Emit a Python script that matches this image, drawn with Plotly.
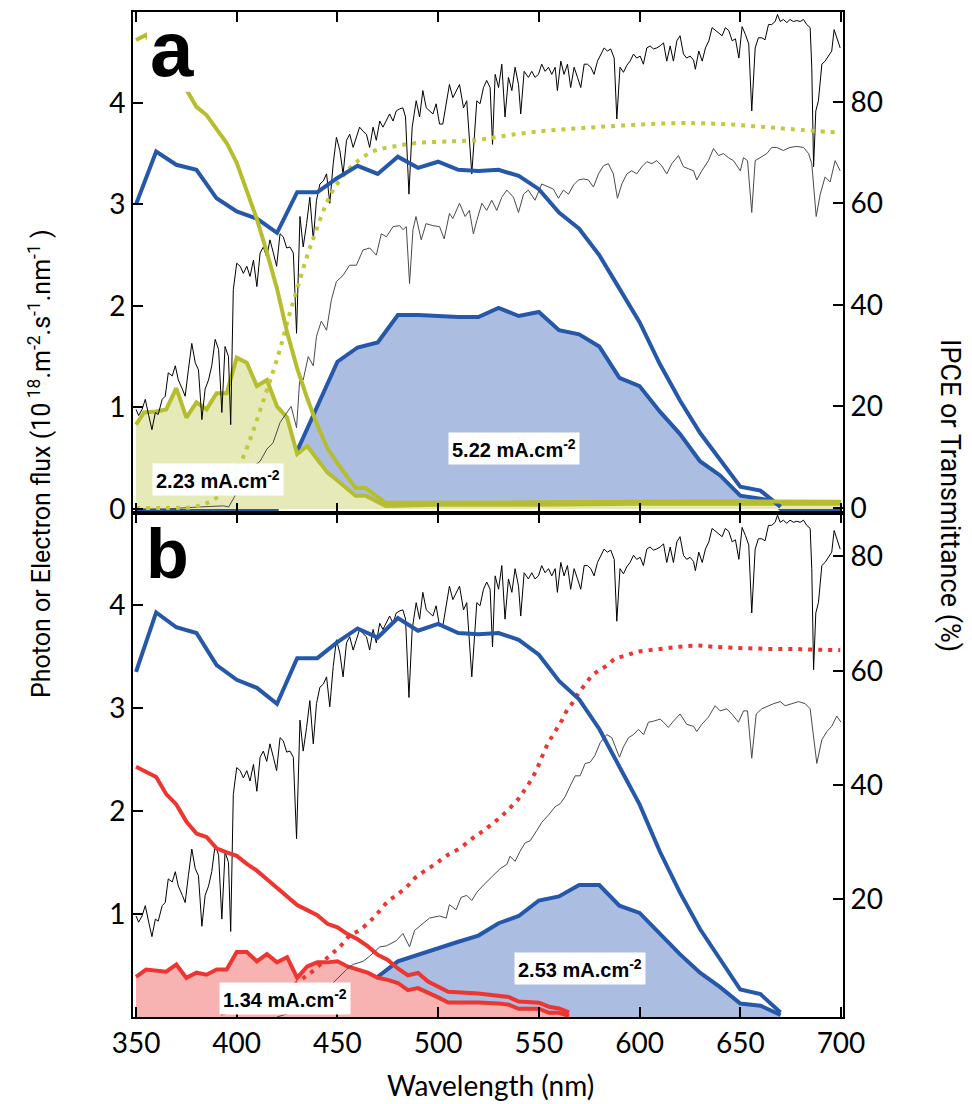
import plotly.graph_objects as go

# ---------------- data ----------------
# AM1.5 solar photon flux (10^18 m-2 s-1 nm-1), shared by both panels
solar_wl = [350.0, 351.3, 353.0, 354.6, 356.3, 357.9, 359.6, 361.0, 363.0, 364.5, 366.0, 368.0, 369.5, 371.0,
            373.0, 374.4, 376.0, 377.7, 379.4, 381.0, 382.7, 384.3, 386.0, 387.6, 389.3, 391.0, 392.6, 394.2,
            395.9, 397.0, 398.3, 400.0, 401.7, 403.3, 405.0, 406.6, 408.3, 410.0, 411.6, 413.2, 414.9, 416.5,
            418.2, 419.8, 421.5, 423.1, 424.8, 426.4, 428.1, 429.7, 431.4, 433.0, 434.7, 436.3, 438.0, 439.6,
            441.3, 443.0, 444.6, 446.2, 447.9, 449.5, 451.2, 452.8, 454.5, 456.1, 457.8, 459.4, 461.0, 462.7,
            464.4, 466.0, 467.7, 469.3, 471.0, 472.6, 474.3, 475.9, 477.6, 479.2, 480.9, 482.5, 483.8, 485.5,
            487.1, 489.1, 490.8, 492.4, 494.1, 495.7, 497.4, 499.0, 500.7, 502.3, 504.0, 505.6, 507.3, 508.9,
            510.6, 512.6, 514.2, 516.7, 519.2, 520.8, 522.5, 524.1, 525.8, 527.0, 528.3, 530.0, 531.6, 533.2,
            534.9, 536.6, 538.2, 539.9, 541.0, 542.7, 544.8, 546.5, 548.1, 549.8, 551.4, 553.1, 554.8, 556.4,
            558.1, 559.2, 560.9, 562.5, 564.2, 565.8, 567.5, 569.2, 570.8, 572.5, 574.1, 575.8, 577.4, 579.1,
            580.7, 582.4, 584.0, 585.7, 587.4, 588.7, 590.3, 592.0, 593.7, 595.3, 597.0, 598.6, 600.3, 601.9,
            603.6, 605.2, 606.9, 608.5, 610.2, 611.9, 613.5, 615.2, 616.8, 618.5, 620.1, 621.8, 623.4, 625.1,
            626.8, 627.7, 629.4, 631.1, 632.7, 634.4, 636.0, 637.7, 639.3, 641.0, 642.6, 644.3, 646.0, 647.6,
            649.3, 650.9, 652.6, 654.2, 655.7, 657.4, 659.0, 660.7, 662.3, 664.0, 665.6, 667.3, 668.5, 669.8,
            671.4, 673.1, 674.7, 676.4, 678.1, 679.7, 681.4, 683.0, 684.7, 685.5, 686.4, 687.5, 688.8, 690.5,
            692.1, 693.8, 695.4, 696.6, 697.9, 699.6]
solar_flux = [0.98, 0.92, 0.98, 1.08, 0.92, 0.78, 0.95, 0.93, 1.08, 1.11, 1.34, 1.31, 1.41, 1.27,
              1.18, 1.11, 1.37, 1.63, 1.44, 1.37, 0.88, 1.18, 1.27, 1.41, 1.67, 1.57, 0.95, 1.60,
              1.50, 0.83, 2.16, 2.42, 2.39, 2.32, 2.39, 2.29, 2.45, 2.19, 2.52, 2.58, 2.48, 2.65,
              2.52, 2.39, 2.71, 2.68, 2.57, 2.58, 2.52, 1.73, 2.88, 2.58, 2.81, 3.07, 2.65, 3.04,
              3.20, 3.23, 3.30, 3.01, 3.40, 3.66, 3.53, 3.30, 3.63, 3.69, 3.56, 3.66, 3.76, 3.72,
              3.69, 3.56, 3.76, 3.63, 3.82, 3.76, 3.82, 3.89, 3.82, 3.92, 3.94, 3.95, 3.86, 3.10,
              3.76, 4.02, 3.86, 4.12, 3.95, 3.92, 3.89, 3.99, 3.79, 3.79, 3.99, 4.18, 4.05, 4.12,
              4.18, 3.95, 4.02, 3.30, 4.02, 3.99, 4.15, 4.22, 4.15, 3.59, 4.28, 4.15, 4.38, 3.86,
              4.25, 4.12, 4.35, 4.18, 3.89, 4.31, 4.25, 4.31, 4.25, 4.28, 4.38, 4.31, 4.35, 4.28,
              4.35, 4.12, 4.41, 4.28, 4.38, 4.15, 4.35, 4.25, 4.15, 4.38, 4.38, 4.35, 4.28, 4.41,
              4.48, 4.54, 4.51, 4.53, 4.44, 3.84, 4.35, 4.30, 4.37, 4.41, 4.48, 4.44, 4.46, 4.38,
              4.54, 4.56, 4.53, 4.54, 4.56, 4.59, 4.41, 4.56, 4.41, 4.61, 4.66, 4.48, 4.44, 4.46,
              4.42, 4.33, 4.51, 4.41, 4.54, 4.61, 4.74, 4.71, 4.69, 4.66, 4.74, 4.71, 4.61, 4.63,
              4.44, 4.75, 4.67, 4.58, 3.92, 4.54, 4.64, 4.64, 4.62, 4.77, 4.77, 4.80, 4.87, 4.80,
              4.82, 4.79, 4.82, 4.80, 4.81, 4.80, 4.82, 4.77, 4.74, 4.35, 3.37, 3.92, 4.02, 4.38,
              4.41, 4.46, 4.51, 4.72, 4.64, 4.54]

# Blue photoanode IPCE (%) -- same in both panels
ipce_blue_wl = [350, 360, 370, 380, 390, 400, 410, 420, 430, 440, 450, 460, 470, 480, 490, 500, 510, 520,
                530, 540, 550, 560, 570, 580, 590, 600, 610, 620, 630, 640, 650, 660, 670]
ipce_blue = [59.8, 70.2, 67.6, 66.6, 61.0, 58.4, 57.0, 54.2, 62.2, 62.2, 65.0, 67.4, 65.8, 69.2, 67.0, 68.2,
             66.6, 66.4, 66.6, 65.4, 62.8, 58.2, 55.0, 49.8, 43.2, 36.6, 28.4, 21.2, 14.8, 9.4, 4.2, 3.4, 0.2]

# ---- panel a ----
a_blue_e_wl = [350, 360, 370, 380, 390, 400, 410, 420, 430, 440, 450, 460, 470, 480, 490, 500, 510, 520, 530,
               540, 550, 560, 570, 580, 590, 600, 610, 620, 630, 640, 650, 660, 666, 670, 680, 690, 700]
a_blue_e = [0, 0, 0, 0, 0, 0, 0, 0, 0.57, 1.02, 1.45, 1.59, 1.64, 1.91, 1.91, 1.90, 1.89, 1.89, 1.98,
            1.90, 1.94, 1.76, 1.72, 1.60, 1.29, 1.21, 0.96, 0.74, 0.47, 0.33, 0.13, 0.10, 0.08, 0, 0, 0, 0]

a_green_e_wl = [350, 354, 360, 365, 370, 375, 380, 385, 390, 395, 400, 405, 410, 415, 420, 425, 430, 435,
                440, 445, 450, 459, 464, 474, 500, 550, 600, 650, 700]
a_green_e = [0.83, 0.95, 0.96, 0.98, 1.19, 0.90, 1.05, 0.98, 1.14, 1.14, 1.49, 1.44, 1.21, 1.27, 1.01, 0.90,
             0.54, 0.62, 0.49, 0.36, 0.28, 0.13, 0.13, 0.03, 0.04, 0.04, 0.05, 0.05, 0.05]

a_green_ipce_wl = [350, 355, 360, 370, 375, 380, 385, 395, 400, 405, 410, 415, 420, 425, 430, 435, 440, 445,
                   450, 459, 464, 474, 490, 550, 600, 650, 700]
a_green_ipce = [92.2, 93.2, 89.5, 85.0, 82.4, 79.0, 77.4, 71.9, 68.0, 62.7, 56.9, 50.3, 43.2, 34.6, 27.5, 21.6,
                16.3, 11.8, 8.8, 3.9, 3.9, 1.0, 1.0, 1.1, 1.2, 1.3, 1.2]

a_trans_wl = [350, 365, 380, 390, 398, 403, 408, 413, 418, 422, 426, 430.5, 435, 439, 444, 448, 454, 459, 468,
              478, 489, 506, 520, 531, 551, 570, 590, 617, 637, 657, 676, 700]
a_trans = [0, 0, 0.3, 2.0, 5.9, 9.8, 15.0, 20.9, 26.8, 32.0, 37.9, 43.8, 49.7, 54.2, 59.5, 62.7, 66.0, 68.0,
           70.3, 71.2, 71.9, 72.2, 72.5, 73.2, 74.2, 74.8, 75.3, 75.8, 75.7, 75.2, 74.6, 73.9]

a_filtered_wl = [350, 365, 382, 393.4, 396, 398.3, 401.7, 405, 408.3, 411.6, 415, 418, 421.5, 424.8, 427, 429.7,
                 431.4, 433, 435.5, 438, 439.6, 442, 444.6, 447, 449.5, 452.8, 456, 459.4, 462.7, 466, 469.3,
                 471.8, 474.3, 477.6, 480.9, 482.5, 484.2, 485.8, 487.5, 489, 491.6, 494, 497.4, 500.7, 503,
                 505.6, 507.3, 510.6, 513.4, 515.5, 517.5, 519.2, 521.7, 524.1, 526.6, 529.1, 531.6, 534.1,
                 537.4, 539.9, 542.4, 544.8, 548.1, 551.4, 554, 557.2, 559.7, 562.2, 564.7, 567.2, 569.7, 572.1,
                 574.6, 577.1, 579.6, 582.1, 584.5, 587, 589, 591.2, 593.7, 596.1, 598.6, 601.1, 603.6, 606.1,
                 608.5, 611, 613.5, 616, 619.3, 621.8, 624.3, 626.8, 628.4, 630.9, 634.2, 636.7, 639.2, 641.6,
                 644.1, 646.6, 650, 651.6, 653.6, 655.7, 657.4, 659.8, 663.2, 665.6, 668.1, 671.4, 674.7, 678.1,
                 681.4, 683.9, 685.5, 687.7, 689.7, 692.1, 694.6, 697.1, 699.6]
a_filtered = [0.0, 0.0, 0.02, 0.03, 0.02, 0.10, 0.23, 0.33, 0.42, 0.47, 0.59, 0.65, 0.85, 0.95, 1.01, 0.80,
              1.31, 1.27, 1.50, 1.41, 1.70, 1.85, 1.76, 2.06, 2.24, 2.30, 2.40, 2.40, 2.55, 2.57, 2.50,
              2.71, 2.68, 2.78, 2.79, 2.75, 2.78, 2.22, 2.75, 2.88, 2.65, 2.81, 2.79, 2.78, 2.66,
              2.91, 2.86, 3.01, 2.88, 2.94, 2.71, 2.84, 3.01, 2.94, 3.04, 2.94, 3.07, 3.14,
              3.07, 2.92, 3.10, 3.14, 3.04, 3.20, 3.18, 3.15, 3.06, 3.14, 3.10, 3.19, 3.24, 3.25,
              3.24, 3.17, 3.30, 3.38, 3.40, 3.30, 3.06, 3.20, 3.30, 3.33, 3.30, 3.37, 3.42, 3.40,
              3.43, 3.38, 3.30, 3.40, 3.48, 3.37, 3.35, 3.33, 3.24, 3.33, 3.43, 3.55, 3.48, 3.50,
              3.46, 3.43, 3.33, 3.46, 3.43, 2.92, 3.43, 3.46, 3.50, 3.56, 3.56, 3.53, 3.56, 3.57,
              3.56, 3.50, 3.40, 2.88, 3.10, 3.27, 3.22, 3.43, 3.33]

# ---- panel b ----
b_blue_e_wl = [410, 420, 430, 440, 450, 460, 470, 480, 490, 500, 510, 520, 530, 540, 550, 560, 570, 580, 590,
               600, 610, 620, 630, 640, 650, 660, 670]
b_blue_e = [0, 0.05, 0.12, 0.19, 0.26, 0.33, 0.39, 0.54, 0.60, 0.67, 0.73, 0.79, 0.91, 0.98, 1.13, 1.17, 1.28,
            1.28, 1.08, 1.01, 0.81, 0.61, 0.43, 0.29, 0.13, 0.11, 0.02]

b_red_e_wl = [350, 355, 365, 370, 375, 380, 385, 390, 395, 400, 405, 410, 415, 420, 425, 430, 435, 440, 445,
              450, 455, 460, 465, 470, 475, 480, 485, 490, 495, 500, 505, 520, 530, 535, 540, 550, 555, 560, 565]
b_red_e = [0.39, 0.46, 0.44, 0.51, 0.38, 0.43, 0.41, 0.46, 0.46, 0.63, 0.63, 0.54, 0.61, 0.53, 0.58, 0.38, 0.49,
           0.53, 0.53, 0.54, 0.49, 0.46, 0.43, 0.38, 0.36, 0.33, 0.26, 0.28, 0.24, 0.19, 0.14, 0.14, 0.13, 0.12,
           0.08, 0.08, 0.04, 0.04, 0.01]

b_red_ipce_wl = [350, 355, 360, 365, 370, 375, 380, 385, 390, 395, 400, 405, 410, 415, 420, 425, 430, 435, 440,
                 445, 450, 455, 460, 465, 470, 475, 480, 485, 490, 495, 500, 505, 520, 530, 535, 540, 550, 555,
                 560, 565]
b_red_ipce = [43.2, 42.3, 41.4, 38.4, 36.6, 33.6, 31.5, 30.9, 28.9, 28.2, 27.6, 26.2, 25.0, 23.5, 22.0, 20.5,
              19.0, 18.1, 17.2, 15.7, 15.1, 13.9, 13.0, 11.8, 10.3, 9.4, 7.9, 6.7, 7.1, 5.6, 4.7, 3.8, 3.5, 3.0,
              2.9, 2.1, 1.9, 1.2, 0.9, 0.2]

b_trans_wl = [392, 400, 410, 420, 431, 438, 446, 451, 456, 461, 466, 470, 475, 480, 485, 489, 494, 499, 504, 511,
              517.5, 522.5, 527.5, 531.6, 535.7, 539.9, 542.3, 545.7, 549, 551.5, 554, 556.4, 559, 561.4, 564,
              567.2, 569.7, 573, 576.3, 579.6, 583.7, 587.9, 593.7, 598.6, 605.2, 612.7, 620.1, 628.4, 636.7,
              646.6, 656.5, 666.5, 676.4, 686.3, 699.6]
b_trans = [0, 0.6, 1.6, 3.0, 5.7, 7.5, 10.1, 11.6, 13.6, 14.6, 16.1, 17.6, 19.6, 20.9, 22.4, 23.9, 25.1, 26.3,
           27.6, 29.0, 30.8, 32.0, 33.4, 34.6, 36.0, 37.6, 38.8, 40.6, 42.8, 44.9, 46.9, 48.4, 49.9, 51.3, 53.1,
           54.6, 56.1, 57.6, 59.1, 60.0, 60.9, 62.1, 62.7, 63.3, 63.6, 63.9, 64.2, 64.4, 64.2, 64.0, 63.9, 63.8,
           63.8, 63.7, 63.6]

b_filtered_wl = [420, 430, 440, 448, 454.5, 457.8, 462.7, 466, 471, 474.3, 479.2, 482.5, 485.8, 488.3, 491.6,
                 495.7, 500.7, 504, 505.6, 508.9, 511.4, 514.2, 516.7, 519.2, 522.5, 525, 527.5, 530.8, 534.1,
                 535.7, 538.2, 540.7, 543.2, 545.7, 549, 551.5, 554.8, 558.1, 560.6, 563.1, 565.5, 568, 570.5,
                 573, 575.4, 577.9, 580.4, 583.7, 586.2, 590, 592, 594.5, 597, 599.4, 602, 604.4, 606.9, 610.2,
                 611.9, 614.3, 616.8, 620.1, 623.4, 626.8, 628.4, 630.9, 634.2, 637.5, 640, 643.3, 645.8, 649.1,
                 651.6, 653.6, 655.7, 657.9, 660.7, 664, 666.5, 669.8, 672.3, 675.6, 678.9, 682.2, 684.7, 688,
                 690.5, 693, 695.4, 697.9, 700]
b_filtered = [0.0, 0.06, 0.18, 0.34, 0.46, 0.51, 0.54, 0.59, 0.68, 0.69, 0.74, 0.81, 0.68, 0.84, 0.89,
              0.96, 0.98, 0.96, 1.09, 1.04, 1.16, 1.18, 1.13, 1.21, 1.28, 1.33, 1.38, 1.44, 1.48,
              1.56, 1.51, 1.61, 1.69, 1.71, 1.81, 1.89, 1.96, 2.04, 2.07, 2.14, 2.24, 2.34, 2.34,
              2.46, 2.47, 2.54, 2.66, 2.74, 2.71, 2.52, 2.62, 2.71, 2.74, 2.79, 2.74, 2.86, 2.87, 2.89,
              2.86, 2.81, 2.87, 2.94, 2.84, 2.82, 2.77, 2.84, 2.91, 3.02, 2.97, 2.99, 2.94, 2.86,
              2.97, 2.97, 2.51, 2.94, 2.99, 3.02, 3.04, 3.06, 3.02, 3.04, 3.06, 3.04, 2.99, 2.46,
              2.69, 2.77, 2.82, 2.92, 2.86]

x_ticks = [350, 400, 450, 500, 550, 600, 650, 700]
left_ticks_a = [0, 1, 2, 3, 4]
left_ticks_b = [1, 2, 3, 4]
right_ticks_a = [0, 20, 40, 60, 80]
right_ticks_b = [20, 40, 60, 80]
current_labels = ["2.23 mA.cm<sup>-2</sup>", "5.22 mA.cm<sup>-2</sup>",
                  "1.34 mA.cm<sup>-2</sup>", "2.53 mA.cm<sup>-2</sup>"]

# ---------------- styles ----------------
BLUE = "#2558a8"
BLUE_FILL = "#abbee1"
GREEN = "#b6bd2f"
GREEN_FILL = "#e6eab8"
GREEN_DOT = "#c3c93c"
RED = "#ee3530"
RED_FILL = "#f7b3b1"
GRAY = "#4a4a4a"

fig = go.Figure()

def line(x, y, xa, ya, color, width, dash=None, fill=None, fillcolor=None, shape="linear"):
    fig.add_trace(go.Scatter(x=x, y=y, xaxis=xa, yaxis=ya, mode="lines",
                             line=dict(color=color, width=width, dash=dash, shape=shape),
                             fill=fill, fillcolor=fillcolor, showlegend=False, hoverinfo="skip"))

# panel a (x2, y3 left / y4 right)
line(a_blue_e_wl, a_blue_e, "x2", "y3", BLUE, 4, fill="tozeroy", fillcolor=BLUE_FILL)
line(a_green_e_wl, a_green_e, "x2", "y3", GREEN, 4, fill="tozeroy", fillcolor=GREEN_FILL)
line(solar_wl, solar_flux, "x2", "y3", "black", 1)
line(a_filtered_wl, a_filtered, "x2", "y3", GRAY, 1)
line(a_trans_wl, a_trans, "x2", "y4", GREEN_DOT, 4, dash="4px,6px", shape="spline")
line(ipce_blue_wl, ipce_blue, "x2", "y4", BLUE, 4)
line(a_green_ipce_wl, a_green_ipce, "x2", "y4", GREEN, 4)

# panel b (x, y left / y2 right)
line(b_blue_e_wl, b_blue_e, "x", "y", BLUE, 4, fill="tozeroy", fillcolor=BLUE_FILL)
line(b_red_e_wl, b_red_e, "x", "y", RED, 4, fill="tozeroy", fillcolor=RED_FILL)
line(solar_wl, solar_flux, "x", "y", "black", 1)
line(b_filtered_wl, b_filtered, "x", "y", GRAY, 1)
line(b_trans_wl, b_trans, "x", "y2", RED, 4, dash="4px,6px", shape="spline")
line(ipce_blue_wl, ipce_blue, "x", "y2", BLUE, 4)
line(b_red_ipce_wl, b_red_ipce, "x", "y2", RED, 4)

TICKFONT = dict(family="Lato, Open Sans, sans-serif", size=28, color="black")
SPLIT = 0.5015

common_x = dict(range=[348.5, 701], tickvals=x_ticks, ticks="inside", ticklen=10, tickwidth=1.5,
                tickcolor="black", showline=True, linecolor="black", linewidth=2, mirror="ticks",
                showgrid=False, zeroline=False, tickfont=TICKFONT)
common_y = dict(ticks="inside", ticklen=10, tickwidth=1.5, tickcolor="black", showline=True,
                linecolor="black", linewidth=2, showgrid=False, zeroline=False, tickfont=TICKFONT)

fig.update_layout(
    width=972, height=1104, autosize=False,
    margin=dict(l=133, r=129, t=10, b=87),
    paper_bgcolor="white", plot_bgcolor="white",
    xaxis=dict(domain=[0, 1], anchor="y", **common_x),
    xaxis2=dict(domain=[0, 1], anchor="y3", showticklabels=False, **common_x),
    yaxis=dict(domain=[0, SPLIT], anchor="x", range=[0, 4.89], tickvals=left_ticks_b, **common_y),
    yaxis2=dict(overlaying="y", side="right", anchor="x", range=[-0.6, 87.6], tickvals=right_ticks_b,
                **common_y),
    yaxis3=dict(domain=[SPLIT, 1], anchor="x2", range=[-0.04, 4.894], tickvals=left_ticks_a, **common_y),
    yaxis4=dict(overlaying="y3", side="right", anchor="x2", range=[-1.0, 97.7], tickvals=right_ticks_a,
                **common_y),
)

PLOT_L, PLOT_W, PLOT_B, PLOT_H = 133, 710, 1017, 1007
def px(xp):
    return (xp - PLOT_L) / PLOT_W
def py(yp):
    return (PLOT_B - yp) / PLOT_H

# white patch behind the panel letter "a"
fig.add_shape(type="rect", xref="paper", yref="paper", x0=px(147), x1=px(191), y0=py(90), y1=py(12),
              fillcolor="white", line=dict(width=0), layer="above")

LABEL_FONT = dict(family="Liberation Sans, Arial, sans-serif", size=78, color="black", weight="bold")
fig.add_annotation(text="a", xref="paper", yref="paper", x=px(149), y=py(92), xanchor="left",
                   yanchor="bottom", showarrow=False, font=LABEL_FONT, borderpad=0)
fig.add_annotation(text="b", xref="paper", yref="paper", x=px(145), y=py(593), xanchor="left",
                   yanchor="bottom", showarrow=False, font=dict(LABEL_FONT, size=70), borderpad=0)

VAL_FONT = dict(family="Liberation Sans, Arial, sans-serif", size=20, color="black", weight="bold")
label_pos = [(218, 478), (514, 447), (285, 998), (580, 968)]
for txt, (xp, yp) in zip(current_labels, label_pos):
    fig.add_annotation(text=txt, xref="paper", yref="paper", x=px(xp), y=py(yp), xanchor="center",
                       yanchor="middle", showarrow=False, font=VAL_FONT, bgcolor="white", borderpad=3)

TITLE_FAMILY = "Roboto, Liberation Sans, sans-serif"
fig.add_annotation(text="Photon or Electron flux (10<sup> 18</sup>.m<sup>-2</sup>.s<sup>-1</sup>.nm<sup>-1</sup> )",
                   xref="paper", yref="paper", x=px(40), y=py(463), textangle=-90, showarrow=False,
                   xanchor="center", yanchor="middle", font=dict(family=TITLE_FAMILY, size=25, color="black"))
fig.add_annotation(text="IPCE or Transmittance (%)", xref="paper", yref="paper", x=px(950), y=py(494),
                   textangle=90, showarrow=False, xanchor="center", yanchor="middle",
                   font=dict(family=TITLE_FAMILY, size=27, color="black"))
fig.add_annotation(text="Wavelength (nm)", xref="paper", yref="paper", x=px(490), y=py(1085),
                   showarrow=False, xanchor="center", yanchor="middle",
                   font=dict(family="Lato, Open Sans, sans-serif", size=28, color="black"))

fig.write_html("out.html")
